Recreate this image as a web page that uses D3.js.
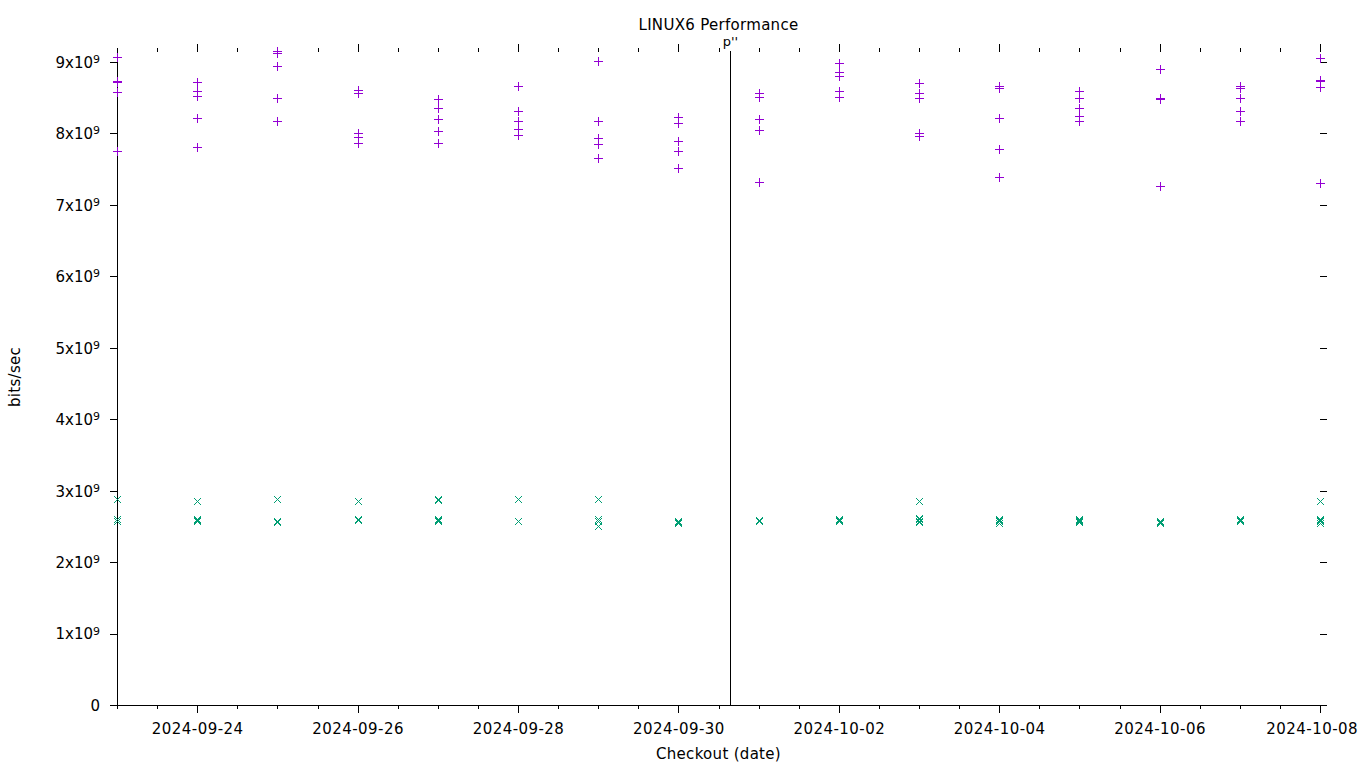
<!DOCTYPE html>
<html>
<head>
<meta charset="utf-8">
<script src="https://cdn.jsdelivr.net/npm/d3@7"></script>
<style>
	body { margin: 0; background: #fff; }
	svg { display: block; }
	text { font-family: "DejaVu Sans", sans-serif; font-size: 15px; fill: #000; }
	.axis path, .axis line { stroke: #000; shape-rendering: crispEdges; }
</style>
</head>
<body>
<div id="chart"></div>
<script>

// checkout dates (one column of points per date)
var dates = ["2024-09-23","2024-09-24","2024-09-25","2024-09-26","2024-09-27","2024-09-28",
	"2024-09-29","2024-09-30","2024-10-01","2024-10-02","2024-10-03","2024-10-04",
	"2024-10-05","2024-10-06","2024-10-07","2024-10-08"];

// "+" series, bits/sec in units of 1e9, 5 runs per date
var plusRuns = [
	[9.07, 8.74, 8.72, 8.58, 7.75],
	[8.72, 8.60, 8.53, 8.21, 7.81],
	[9.15, 9.12, 8.95, 8.49, 8.17],
	[8.61, 8.57, 8.00, 7.95, 7.86],
	[8.48, 8.36, 8.20, 8.03, 7.86],
	[8.67, 8.32, 8.18, 8.06, 7.98],
	[9.02, 8.17, 7.94, 7.85, 7.65],
	[8.23, 8.14, 7.90, 7.75, 7.51],
	[8.57, 8.51, 8.20, 8.05, 7.32],
	[8.99, 8.86, 8.81, 8.60, 8.51],
	[8.71, 8.56, 8.49, 8.00, 7.96],
	[8.66, 8.64, 8.21, 7.78, 7.39],
	[8.60, 8.49, 8.35, 8.25, 8.18],
	[8.90, 8.49, 8.48, 8.48, 7.27],
	[8.67, 8.64, 8.49, 8.32, 8.18],
	[9.05, 8.75, 8.74, 8.65, 7.30]
];

// "x" series, bits/sec in units of 1e9
var crossRuns = [
	[2.89, 2.61, 2.60, 2.58, 2.57],
	[2.86, 2.60, 2.59, 2.58, 2.58],
	[2.89, 2.58, 2.57, 2.57, 2.56],
	[2.86, 2.61, 2.60, 2.60, 2.59],
	[2.88, 2.87, 2.60, 2.59, 2.57],
	[2.88, 2.58, 2.575, 2.57, 2.57],
	[2.89, 2.88, 2.61, 2.57, 2.50],
	[2.57, 2.56, 2.56, 2.55, 2.55],
	[2.59, 2.58, 2.58, 2.57, 2.57],
	[2.61, 2.60, 2.59, 2.58, 2.57],
	[2.85, 2.62, 2.60, 2.58, 2.56],
	[2.61, 2.59, 2.58, 2.57, 2.55],
	[2.61, 2.59, 2.58, 2.57, 2.56],
	[2.57, 2.56, 2.56, 2.55, 2.55],
	[2.61, 2.60, 2.59, 2.58, 2.57],
	[2.85, 2.61, 2.59, 2.57, 2.55]
];

// event marker (vertical line)
var markerTimes = ["2024-09-30T15:25"];
var markerLabels = ["p''"];

// y ticks (1e9 units)
var yTicks = [0,1,2,3,4,5,6,7,8,9];

var W = 1360, H = 768;
var margin = { top: 52, right: 40, bottom: 63, left: 117 };

var parseDay = d3.timeParse("%Y-%m-%d");
var parseTime = d3.timeParse("%Y-%m-%dT%H:%M");

var svg = d3.select("#chart").append("svg")
	.attr("width", W)
	.attr("height", H);

svg.append("rect").attr("width", W).attr("height", H).attr("fill", "#fff");

var xScale = d3.scaleTime()
	.domain([parseDay(dates[0]), parseDay(dates[dates.length-1])])
	.range([margin.left, W - margin.right]);

var yScale = d3.scaleLinear()
	.domain([0, 9.14])
	.range([H - margin.bottom, margin.top]);

// flatten to points
var plusPts = [], crossPts = [];
dates.forEach(function(d,i){
	plusRuns[i].forEach(function(v){ plusPts.push({ t: parseDay(d), v: v }); });
	crossRuns[i].forEach(function(v){ crossPts.push({ t: parseDay(d), v: v }); });
});

/*
 *	AXES
 */
// labelled ticks every 2 days starting at 09-24
var majorDays = d3.timeDay.range(parseDay("2024-09-24"), d3.timeDay.offset(xScale.domain()[1], 1))
	.filter(function(d,i){ return i % 2 == 0; });
var minorTicks = d3.timeHour.every(12).range(xScale.domain()[0], d3.timeHour.offset(xScale.domain()[1], 1));

// minor x ticks, bottom + top (mirror)
svg.append("g").attr("class", "x minor axis")
	.attr("transform", "translate(0," + (H - margin.bottom) + ")")
	.call(d3.axisBottom(xScale).tickValues(minorTicks).tickSize(4).tickFormat(""))
	.call(function(g){ g.select(".domain").remove(); });
svg.append("g").attr("class", "x minor axis")
	.attr("transform", "translate(0," + margin.top + ")")
	.call(d3.axisTop(xScale).tickValues(minorTicks).tickSize(4).tickFormat(""))
	.call(function(g){ g.select(".domain").remove(); });

// major x ticks + labels
var xAxis = d3.axisBottom(xScale)
	.tickValues(majorDays)
	.tickSize(8)
	.tickSizeOuter(0)
	.tickPadding(10)
	.tickFormat(d3.timeFormat("%Y-%m-%d"));

svg.append("g").attr("class", "x axis")
	.attr("transform", "translate(0," + (H - margin.bottom) + ")")
	.call(xAxis)
	.call(function(g){
		g.selectAll("text").attr("fill", null).style("letter-spacing", "0.45px");
		// keep the last label inside the window
		g.selectAll("text").each(function(){
			var b = this.getBBox(), x0 = +d3.select(this.parentNode).attr("transform").match(/translate\(([-\d.]+)/)[1];
			var over = x0 + b.x + b.width - (W - 2);
			if (over > 0) d3.select(this).attr("x", -over);
		});
	});

svg.append("g").attr("class", "x axis")
	.attr("transform", "translate(0," + margin.top + ")")
	.call(d3.axisTop(xScale).tickValues(majorDays).tickSize(8).tickFormat(""))
	.call(function(g){ g.select(".domain").remove(); });

// y axis, left with labels
var yAxis = d3.axisLeft(yScale)
	.tickValues(yTicks)
	.tickSize(7)
	.tickSizeOuter(0)
	.tickPadding(10)
	.tickFormat("");

var yG = svg.append("g").attr("class", "y axis")
	.attr("transform", "translate(" + margin.left + ",0)")
	.call(yAxis);

yG.selectAll(".domain").attr("d", "M0," + yScale.range()[0] + "V" + yScale.range()[1]);

// labels like 9x10^9
yG.selectAll(".tick").append("text")
	.attr("x", -17)
	.attr("dy", "0.36em")
	.attr("text-anchor", "end")
	.each(function(d){
		var t = d3.select(this);
		if (d == 0) { t.text("0"); return; }
		t.append("tspan").text(d + "x10");
		t.append("tspan").attr("dy", "-0.45em").style("font-size", "11px").text("9");
	});

// right mirror ticks
svg.append("g").attr("class", "y axis")
	.attr("transform", "translate(" + (W - margin.right) + ",0)")
	.call(d3.axisRight(yScale).tickValues(yTicks).tickSize(7).tickFormat(""))
	.call(function(g){ g.select(".domain").remove(); });

/*
 *	EVENT MARKER
 */
markerTimes.forEach(function(m,i){
	var mx = Math.round(xScale(parseTime(m))) + 0.5;
	svg.append("line")
		.attr("x1", mx).attr("x2", mx)
		.attr("y1", margin.top - 1).attr("y2", H - margin.bottom)
		.attr("stroke", "#000").attr("stroke-width", 1);
	svg.append("text")
		.attr("x", mx)
		.attr("y", 46)
		.attr("text-anchor", "middle")
		.style("font-size", "13px")
		.text(markerLabels[i]);
});

/*
 *	POINTS
 */
var plus = "M-4.5,0H4.5M0,-4.5V4.5";
var cross = "M-3.5,-3.5L3.5,3.5M-3.5,3.5L3.5,-3.5";

svg.append("g").selectAll("path")
	.data(plusPts).enter()
	.append("path")
		.attr("d", plus)
		.attr("transform", function(d){ return "translate(" + (Math.round(xScale(d.t)) + 0.5) + "," + (Math.round(yScale(d.v)) + 0.5) + ")"; })
		.attr("stroke", "#9400d3")
		.attr("stroke-width", 1)
		.attr("fill", "none");

svg.append("g").selectAll("path")
	.data(crossPts).enter()
	.append("path")
		.attr("d", cross)
		.attr("transform", function(d){ return "translate(" + (Math.round(xScale(d.t)) + 0.5) + "," + (Math.round(yScale(d.v)) + 0.5) + ")"; })
		.attr("stroke", "#009e73")
		.attr("stroke-width", 1)
		.attr("fill", "none");

/*
 *	TITLE + LABELS
 */
svg.append("text")
	.attr("x", (margin.left + W - margin.right) / 2)
	.attr("y", 30)
	.attr("text-anchor", "middle")
	.style("letter-spacing", "0.3px")
	.text("LINUX6 Performance");

svg.append("text")
	.attr("x", (margin.left + W - margin.right) / 2)
	.attr("y", 759)
	.attr("text-anchor", "middle")
	.style("letter-spacing", "0.3px")
	.text("Checkout (date)");

svg.append("text")
	.attr("transform", "translate(20,377) rotate(-90)")
	.attr("text-anchor", "middle")
	.style("letter-spacing", "0.3px")
	.text("bits/sec");

</script>
</body>
</html>
